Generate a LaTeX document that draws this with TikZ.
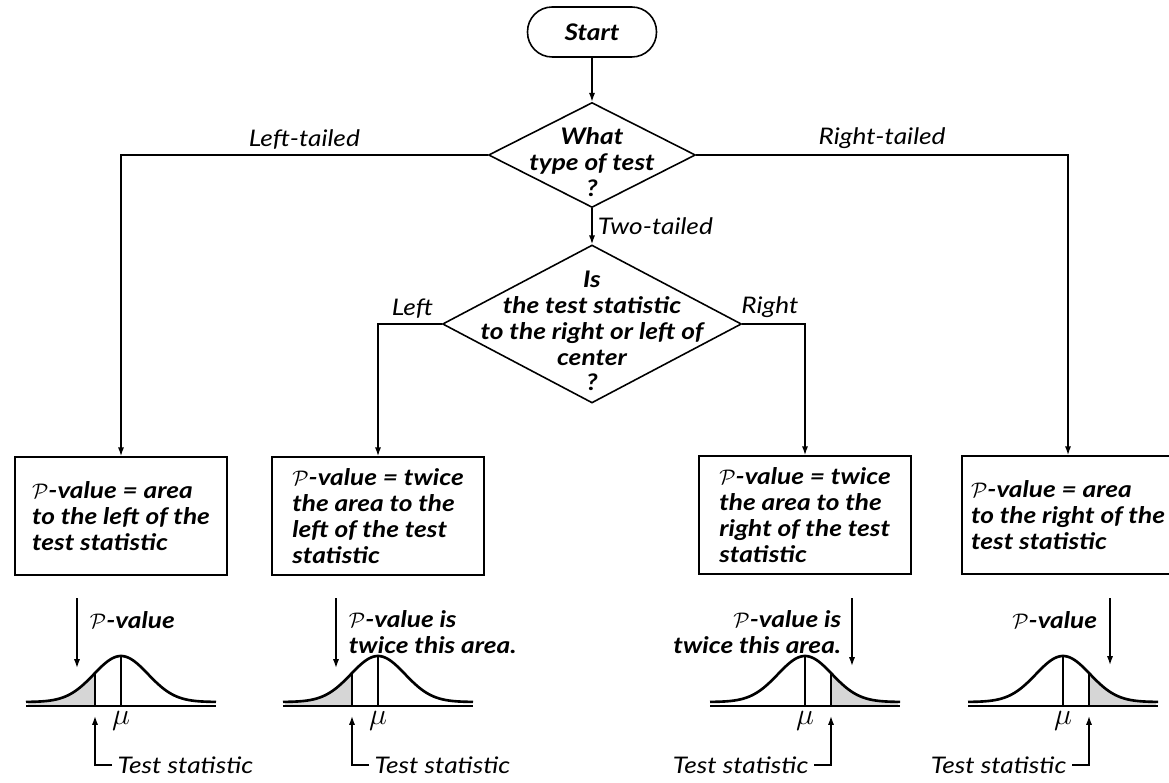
\documentclass[tikz,border=0pt]{standalone}
\usepackage{fontspec}
\setmainfont{Lato}[FakeStretch=1.15]
\usepackage{tikz}
\usetikzlibrary{arrows.meta,positioning,calc,shapes.geometric}
\newcommand{\handfont}{\fontsize{13}{14.7}\selectfont\itshape}
\newcommand{\handbold}{\fontsize{13}{14.7}\selectfont\bfseries\itshape}
\newcommand{\PV}{$\mathcal{P}$-value}
% normal curve: #1 = centre (mu), #2 = -1 left tail / 1 right tail
\newcommand{\normalbell}[2]{%
  \fill[tailshade] plot[domain=26:93,samples=30] ({#1+#2*\x},{702-46*exp(-(\x)*(\x)/1458)})
    -- ({#1+#2*93},706) -- ({#1+#2*26},706) -- cycle;
  \draw[curveline] plot[domain=-95:95,samples=90] ({#1+\x},{702-46*exp(-(\x)*(\x)/1458)});
  \draw[axisline] ({#1-95},706) -- ({#1+95},706);
  \draw[axisline] (#1,706) -- (#1,656);
  \draw[axisline] ({#1+#2*26},706) -- ({#1+#2*26},673);
  \node[inner sep=0pt,below,font=\fontsize{17}{18}\selectfont] at (#1,711) {$\mu$};}

\begin{document}
\begin{tikzpicture}[
  x=0.02cm, y=-0.02cm,
  arr/.style={-{Latex[length=5pt,width=3.5pt]},line width=0.8pt},
  startbox/.style={draw,line width=0.9pt,rounded corners=14pt,minimum width=2.58cm,
                   minimum height=1cm,font=\handbold},
  decision/.style={draw,diamond,line width=0.9pt,inner sep=0pt},
  qtext/.style={align=center,inner sep=0pt,font=\handbold},
  outcome/.style={draw,line width=1pt,align=left,minimum width=4.24cm,
                  minimum height=2.36cm,inner sep=2pt,font=\handbold},
  branch/.style={font=\handfont,inner sep=3pt},
  note/.style={font=\handbold,inner sep=2pt},
  curveline/.style={line width=1.5pt},
  axisline/.style={line width=0.8pt},
  tailshade/.style={fill=black!16}
]
\useasboundingbox (0,0) rectangle (1169,783);
\clip (0,0) rectangle (1169,783);

% decisions
\node[startbox] (start) at (592,32) {Start};
\node[decision,minimum width=4.14cm,minimum height=2.1cm] (typeq) at (592,155) {};
\node[qtext] (typetxt) at (592,162) {What\\type of test\\?};
\node[decision,minimum width=5.98cm,minimum height=3.16cm] (sideq) at (592,324) {};
\node[qtext] (sidetxt) at (592,331) {Is\\the test statistic\\to the right or left of\\center\\?};

% outcomes
\node[outcome] (leftbox) at (121,516) {\PV{} = area\\to the left of the\\test statistic};
\node[outcome] (twoleftbox) at (378,516) {\PV{} = twice\\the area to the\\left of the test\\statistic};
\node[outcome] (tworightbox) at (805,515) {\PV{} = twice\\the area to the\\right of the test\\statistic};
\node[outcome] (rightbox) at (1068,515) {\PV{} = area\\to the right of the\\test statistic};

\draw[arr] (start) -- (typeq);
\draw[arr] (typeq) -- node[branch,right,pos=.5]{Two-tailed} (sideq);
\draw[arr] (typeq.west) -| node[branch,above,pos=.25]{Left-tailed} (leftbox.north);
\draw[arr] (typeq.east) -| node[branch,above,pos=.25]{Right-tailed} (rightbox.north);
\draw[arr] (sideq.west) -| node[branch,above,pos=.23]{Left} (twoleftbox.north);
\draw[arr] (sideq.east) -| node[branch,above,pos=.22]{Right} (tworightbox.north);

% normal curves
\normalbell{121}{-1}
\normalbell{378}{-1}
\normalbell{805}{1}
\normalbell{1063}{1}

% P-value pointers
\coordinate (pvtop1) at (77,598);   \coordinate (pvtip1) at (77,668);
\coordinate (pvtop2) at (336,598);  \coordinate (pvtip2) at (336,668);
\coordinate (pvtop3) at (852,598);  \coordinate (pvtip3) at (852,666);
\coordinate (pvtop4) at (1110,598); \coordinate (pvtip4) at (1110,665);
\draw[arr] (pvtop1) -- (pvtip1);
\draw[arr] (pvtop2) -- (pvtip2);
\draw[arr] (pvtop3) -- (pvtip3);
\draw[arr] (pvtop4) -- (pvtip4);
\node[note,anchor=west] (pvnote1) at (86,620) {\PV};
\node[note,anchor=west,align=left] (pvnote2) at (345,632) {\PV{} is\\twice this area.};
\node[note,anchor=east,align=right] (pvnote3) at (845,632) {\PV{} is\\twice this area.};
\node[note,anchor=east] (pvnote4) at (1101,620) {\PV};

% test statistic pointers
\coordinate (tstip1) at (95,716);
\coordinate (tstip2) at (352,716);
\coordinate (tstip3) at (831,716);
\coordinate (tstip4) at (1089,716);
\node[branch,anchor=west] (tslab1) at (112,765) {Test statistic};
\node[branch,anchor=west] (tslab2) at (369,765) {Test statistic};
\node[branch,anchor=east] (tslab3) at (814,765) {Test statistic};
\node[branch,anchor=east] (tslab4) at (1072,765) {Test statistic};
\draw[arr] (tslab1.west) -| (tstip1);
\draw[arr] (tslab2.west) -| (tstip2);
\draw[arr] (tslab3.east) -| (tstip3);
\draw[arr] (tslab4.east) -| (tstip4);
\end{tikzpicture}
\end{document}
